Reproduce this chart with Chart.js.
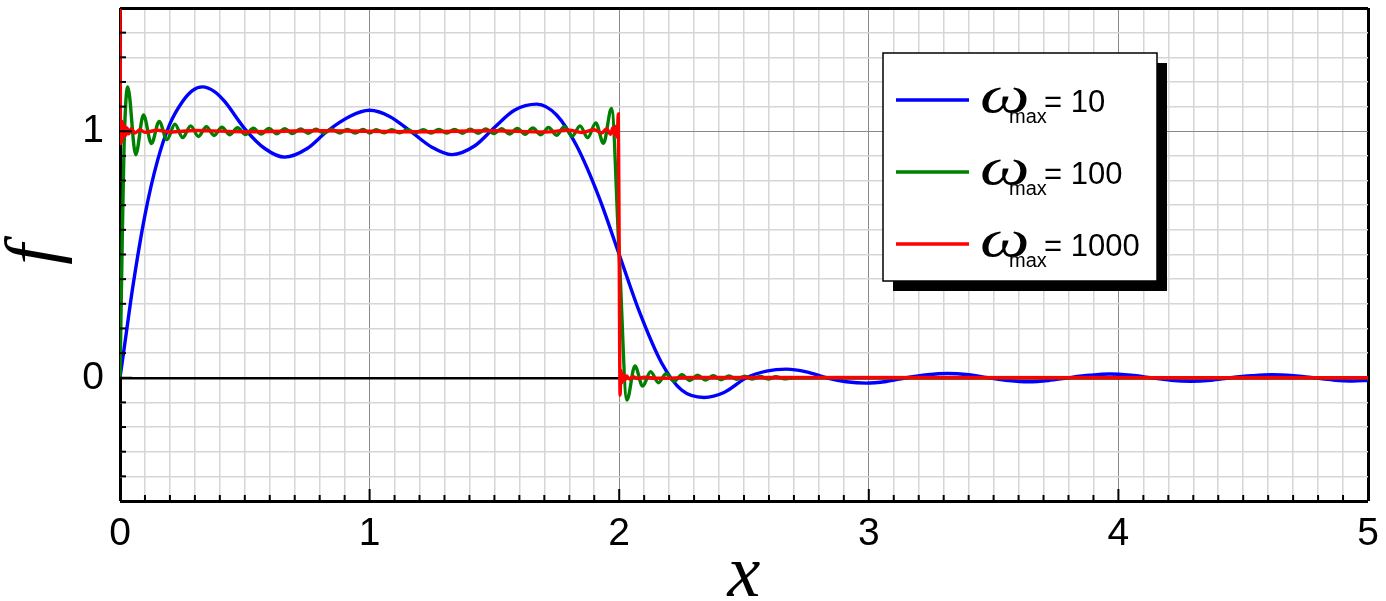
<!DOCTYPE html>
<html>
<head>
<meta charset="utf-8">
<script src="https://cdn.jsdelivr.net/npm/chart.js@4.4.1/dist/chart.umd.min.js"></script>
<style>
    html, body { margin: 0; padding: 0; background: #fff; }
</style>
</head>
<body>
<canvas id="grafico" width="1386" height="601"></canvas>
<script>
// =========================
// DATOS
// =========================
const xTickLabels = [0, 1, 2, 3, 4, 5];
const yTickLabels = [0, 1];
const omegaLabels = ['10', '100', '1000'];
const seriesColors = ['#0000ff', '#008000', '#ff0000'];

// omega_max = 10
const blueX = [0, 0.025, 0.05, 0.1, 0.15, 0.2, 0.25, 0.29, 0.33, 0.38, 0.42, 0.5, 0.58, 0.66, 0.75, 0.83, 0.92, 1.0,
    1.08, 1.17, 1.25, 1.33, 1.42, 1.5, 1.58, 1.67, 1.75, 1.83, 1.92, 2.0, 2.08, 2.17, 2.25, 2.34, 2.42, 2.51, 2.59,
    2.67, 2.75, 2.83, 2.91, 2.99, 3.07, 3.15, 3.235, 3.315, 3.4, 3.48, 3.56, 3.64, 3.72, 3.8, 3.885, 3.965, 4.05,
    4.13, 4.21, 4.29, 4.37, 4.45, 4.535, 4.615, 4.7, 4.78, 4.86, 4.94, 5.0];
const blueY = [0, 0.18, 0.36, 0.66, 0.88, 1.03, 1.12, 1.165, 1.18, 1.16, 1.12, 1.01, 0.93, 0.895, 0.93, 1.0, 1.06, 1.085,
    1.06, 0.995, 0.935, 0.905, 0.94, 1.015, 1.085, 1.11, 1.065, 0.94, 0.73, 0.5, 0.27, 0.06, -0.05, -0.08, -0.06, 0.0, 0.027,
    0.035, 0.024, 0.0, -0.016, -0.022, -0.015, 0.0, 0.012, 0.017, 0.012, 0.0, -0.011, -0.016, -0.011, 0.0, 0.01, 0.015, 0.01,
    0.0, -0.01, -0.014, -0.01, 0.0, 0.008, 0.012, 0.008, 0.0, -0.009, -0.013, -0.011];

// omega_max = 100
const greenX = [0, 0.008, 0.016, 0.031, 0.063, 0.094, 0.126, 0.157, 0.188, 0.22, 0.251, 0.283, 0.314, 0.346, 0.377,
    0.408, 0.44, 0.471, 0.503, 0.534, 0.565, 0.597, 0.628, 0.66, 0.691, 0.723, 0.754, 0.785, 0.817, 0.848, 0.88,
    0.911, 0.942, 0.974, 1.0, 1.026, 1.058, 1.089, 1.12, 1.152, 1.183, 1.215, 1.246, 1.277, 1.309, 1.34, 1.372,
    1.403, 1.435, 1.466, 1.497, 1.529, 1.56, 1.592, 1.623, 1.654, 1.686, 1.717, 1.749, 1.78, 1.812, 1.843, 1.874,
    1.906, 1.937, 1.969, 2.0, 2.031, 2.063, 2.094, 2.126, 2.157, 2.188, 2.22, 2.251, 2.283, 2.314, 2.346, 2.377,
    2.408, 2.44, 2.471, 2.503, 2.534, 2.565, 2.597, 2.628, 2.66, 2.7, 5.0];
const greenY = [0, 0.5, 0.93, 1.18, 0.905, 1.066, 0.95, 1.04, 0.966, 1.029, 0.974, 1.022, 0.979, 1.018, 0.983,
    1.016, 0.986, 1.014, 0.987, 1.012, 0.989, 1.011, 0.99, 1.01, 0.991, 1.009, 0.992, 1.008, 0.992, 1.008, 0.993,
    1.007, 0.993, 1.007, 0.993, 1.006, 0.994, 1.006, 0.994, 1.006, 0.994, 1.006, 0.993, 1.007, 0.993, 1.007, 0.992,
    1.008, 0.992, 1.009, 0.991, 1.01, 0.989, 1.011, 0.988, 1.013, 0.986, 1.015, 0.984, 1.018, 0.98, 1.022, 0.974,
    1.034, 0.951, 1.092, 0.5, -0.09, 0.048, -0.034, 0.025, -0.02, 0.016, -0.014, 0.012, -0.011, 0.01, -0.009, 0.008,
    -0.008, 0.007, -0.006, 0.006, -0.005, 0.005, -0.005, 0.004, -0.004, 0, 0];

// omega_max = 1000
const redX = [0, 0.0015, 0.0045, 0.008, 0.011, 0.014, 0.0175, 0.021, 0.024, 0.028, 0.035, 0.045, 0.06, 0.08, 0.1,
    0.15, 0.2, 0.3, 0.5, 0.8, 1.2, 1.5, 1.7, 1.8, 1.85, 1.9, 1.93, 1.95, 1.965, 1.975, 1.982, 1.988, 1.992, 1.9965,
    2.0, 2.0035, 2.007, 2.011, 2.016, 2.022, 2.03, 2.04, 2.055, 2.075, 2.1, 2.15, 2.3, 5.0];
const redY = [1.7, 1.07, 0.95, 1.04, 0.97, 1.025, 0.98, 1.018, 0.985, 1.013, 0.99, 1.01, 0.993, 1.006, 0.996,
    1.004, 0.997, 1.003, 0.998, 1.002, 0.998, 1.002, 0.997, 1.004, 0.995, 1.006, 0.993, 1.01, 0.988, 1.014, 0.984, 1.02, 0.975, 1.07,
    0.5, -0.07, 0.03, -0.02, 0.014, -0.01, 0.007, -0.005, 0.004, -0.003, 0.002, -0.002, 0.001, 0];

// =========================
// AYUDAS
// =========================
const esEntero = v => Math.abs(v - Math.round(v)) < 1e-6;
const puntos = (xs, ys) => xs.map((x, i) => ({ x: x, y: ys[i] }));

function colorGrid(ctx, min, max) {
    const v = ctx.tick.value;
    if (Math.abs(v - min) < 1e-6 || Math.abs(v - max) < 1e-6) return '#000';
    if (esEntero(v)) return '#8a8a8a';
    return '#d6d6d6';
}
function anchoGrid(ctx, min, max) {
    const v = ctx.tick.value;
    if (Math.abs(v - min) < 1e-6 || Math.abs(v - max) < 1e-6) return 3;
    if (esEntero(v)) return 1;
    return 1.5;
}

// ticks hacia adentro + leyenda con sombra
const extras = {
    id: 'extras',
    afterDraw(chart) {
        const { ctx, chartArea: a, scales: { x, y } } = chart;
        ctx.save();
        ctx.strokeStyle = '#000';
        ctx.lineWidth = 2;
        x.ticks.forEach(t => {
            const px = x.getPixelForValue(t.value);
            const len = esEntero(t.value) ? 12 : 6;
            ctx.beginPath();
            ctx.moveTo(px, a.bottom);
            ctx.lineTo(px, a.bottom - len);
            ctx.stroke();
        });
        y.ticks.forEach(t => {
            const py = y.getPixelForValue(t.value);
            const len = esEntero(t.value) ? 12 : 6;
            ctx.beginPath();
            ctx.moveTo(a.left, py);
            ctx.lineTo(a.left + len, py);
            ctx.stroke();
        });

        // leyenda
        const lx = 883, ly = 53, lw = 274, lh = 228;
        ctx.fillStyle = '#000';
        ctx.fillRect(lx + 10, ly + 10, lw, lh);
        ctx.fillStyle = '#fff';
        ctx.fillRect(lx, ly, lw, lh);
        ctx.lineWidth = 1.5;
        ctx.strokeStyle = '#000';
        ctx.strokeRect(lx, ly, lw, lh);

        omegaLabels.forEach((lab, i) => {
            const yy = 100 + i * 72;
            ctx.strokeStyle = seriesColors[i];
            ctx.lineWidth = 3.5;
            ctx.beginPath();
            ctx.moveTo(896, yy);
            ctx.lineTo(969, yy);
            ctx.stroke();

            ctx.fillStyle = '#000';
            ctx.textBaseline = 'alphabetic';
            ctx.textAlign = 'left';
            ctx.font = 'italic 52px "Liberation Serif", serif';
            ctx.save();
            ctx.translate(980, yy + 12);
            ctx.scale(1.35, 1);
            ctx.fillText('\u03c9', 0, 0);
            ctx.restore();

            ctx.font = '20px "Liberation Sans", Arial, sans-serif';
            ctx.fillText('max', 1009, yy + 23);
            ctx.font = '31px "Liberation Sans", Arial, sans-serif';
            ctx.fillText('= ' + lab, 1044, yy + 12);
        });
        ctx.restore();
    }
};

// =========================
// GRÁFICO
// =========================
const fuenteTicks = { family: '"Liberation Sans", Arial, sans-serif', size: 39 };
const fuenteTitulo = { family: '"Liberation Serif", serif', style: 'italic', size: 74, lineHeight: 0.6 };

new Chart(document.getElementById('grafico'), {
    type: 'line',
    data: {
        datasets: [
            { data: puntos(redX, redY), borderColor: seriesColors[2], order: 1 },
            { data: puntos(greenX, greenY), borderColor: seriesColors[1], order: 2 },
            { data: puntos(blueX, blueY), borderColor: seriesColors[0], order: 3 }
        ]
    },
    options: {
        responsive: false,
        animation: false,
        devicePixelRatio: 1,
        layout: { padding: { top: 8, right: 18, left: 0, bottom: 0 } },
        elements: {
            point: { radius: 0 },
            line: { borderWidth: 3.4, cubicInterpolationMode: 'monotone', fill: false }
        },
        plugins: { legend: { display: false }, tooltip: { enabled: false } },
        scales: {
            x: {
                type: 'linear',
                min: 0,
                max: 5,
                afterFit: s => { s.height = 100; s.paddingLeft = 0; s.paddingRight = 0; },
                border: { display: false },
                grid: {
                    drawTicks: false,
                    color: c => colorGrid(c, 0, 5),
                    lineWidth: c => anchoGrid(c, 0, 5)
                },
                ticks: {
                    stepSize: 0.1,
                    maxTicksLimit: 200,
                    autoSkip: false,
                    maxRotation: 0,
                    padding: 10,
                    color: '#000',
                    font: fuenteTicks,
                    callback: v => (esEntero(v) && xTickLabels.includes(Math.round(v))) ? String(Math.round(v)) : ''
                },
                title: { display: true, text: 'x', color: '#000', font: fuenteTitulo, padding: { top: 0, bottom: 2 } }
            },
            y: {
                min: -0.5,
                max: 1.5,
                afterFit: s => { s.width = 120; s.paddingTop = 0; s.paddingBottom = 0; },
                border: { display: false },
                grid: {
                    drawTicks: false,
                    color: c => (Math.abs(c.tick.value) < 1e-6 ? '#000' : colorGrid(c, -0.5, 1.5)),
                    lineWidth: c => (Math.abs(c.tick.value) < 1e-6 ? 2.5 : anchoGrid(c, -0.5, 1.5))
                },
                ticks: {
                    stepSize: 0.1,
                    maxTicksLimit: 200,
                    autoSkip: false,
                    padding: 16,
                    color: '#000',
                    font: fuenteTicks,
                    callback: v => (esEntero(v) && yTickLabels.includes(Math.round(v))) ? String(Math.round(v)) : ''
                },
                title: { display: true, text: 'f', color: '#000', font: fuenteTitulo, padding: { top: 14, bottom: 0 } }
            }
        }
    },
    plugins: [extras]
});
</script>
</body>
</html>
